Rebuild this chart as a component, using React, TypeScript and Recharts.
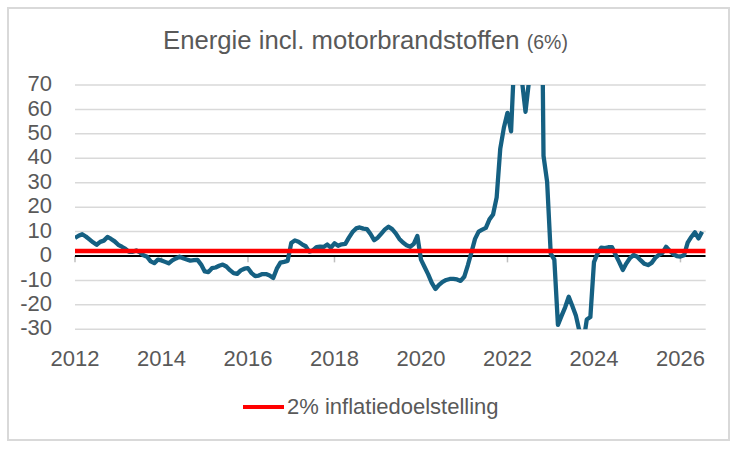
import React from 'react';
import { LineChart, Line, XAxis, YAxis, CartesianGrid, ReferenceLine } from 'recharts';

// Monthly year-on-year change (%), Jan 2012 – Jul 2026
const startYear = 2012;
const energie: number[] = [
  // 2012
  7.4, 8.3, 8.9, 8.0, 6.8, 5.6, 4.6, 5.8, 6.3, 7.8, 7.0, 6.0,
  // 2013
  4.6, 3.8, 2.9, 1.7, 1.7, 2.3, 1.5, 0.3, -0.3, -2.2, -2.9, -1.5,
  // 2014
  -1.8, -2.4, -3.0, -1.8, -1.0, -0.3, -0.9, -1.4, -1.9, -1.7, -1.6, -3.5,
  // 2015
  -6.3, -6.6, -5.0, -4.7, -4.0, -3.5, -4.3, -5.8, -7.0, -7.3, -5.9, -5.2,
  // 2016
  -5.0, -7.0, -8.2, -8.0, -7.4, -7.4, -8.0, -9.0, -5.2, -2.7, -2.4, -2.0,
  // 2017
  5.3, 6.4, 5.8, 4.8, 4.0, 1.8, 2.3, 3.6, 3.8, 3.7, 4.7, 3.4,
  // 2018
  5.2, 4.2, 4.8, 5.0, 7.5, 9.8, 11.3, 11.7, 11.2, 11.0, 9.0, 6.5,
  // 2019
  7.5, 9.2, 10.9, 12.0, 11.0, 9.3, 7.0, 5.5, 4.4, 3.8, 5.0, 8.2,
  // 2020
  -1.5, -4.5, -7.5, -11.0, -13.5, -11.8, -10.6, -9.8, -9.4, -9.4, -9.6, -10.2,
  // 2021
  -8.5, -3.8, 1.5, 7.0, 10.0, 10.8, 11.5, 15.0, 17.0, 24.0, 44.0, 52.5,
  // 2022
  58.6, 51.0, 85.0, 110.0, 72.0, 59.0, 72.0, 115.0, 160.0, 190.0, 41.0, 30.4,
  // 2023
  1.0, -1.5, -28.2, -24.5, -21.0, -16.7, -20.5, -24.5, -31.0, -36.0, -26.0, -25.0,
  // 2024
  -2.5, 1.1, 3.4, 3.2, 3.6, 3.6, 0.5, -2.5, -5.7, -3.0, -0.8, 0.4,
  // 2025
  -0.3, -1.8, -3.2, -3.7, -2.8, -0.8, 0.5, 1.3, 3.8, 2.2, 0.8, 0.0,
  // 2026
  -0.2, 0.3, 5.5, 7.8, 9.7, 7.2, 9.9,
];
const yearTicks = [2012, 2014, 2016, 2018, 2020, 2022, 2024, 2026];
const yTicks = [-30, -20, -10, 0, 10, 20, 30, 40, 50, 60, 70];
const inflatieDoel = 2;
const titleMain = 'Energie incl. motorbrandstoffen';
const titleWeight = '(6%)';
const legendLabel = '2% inflatiedoelstelling';

const axisEnd = startYear + energie.length / 12;
const rows = energie.map((v, i) => ({ t: startYear + i / 12, energie: v }));
const doelRows = [
  { t: startYear, doel: inflatieDoel },
  { t: axisEnd, doel: inflatieDoel },
];
const nulRows = [
  { t: startYear, nul: 0 },
  { t: axisEnd, nul: 0 },
];

const FONT = '"Liberation Sans", Arial, sans-serif';
const GREY = '#595959';

const YTick = (props: any) => {
  const { x, y, payload } = props;
  return (
    <text x={x} y={y} dy="0.28em" textAnchor="end" fontSize={22} fill={GREY} fontFamily={FONT}>
      {payload.value}
    </text>
  );
};

const XTick = (props: any) => {
  const { x, y, payload } = props;
  return (
    <text x={x} y={y} dy="0.71em" textAnchor="middle" fontSize={22} fill={GREY} fontFamily={FONT}>
      {payload.value}
    </text>
  );
};

export default function App() {
  return (
    <div style={{ position: 'absolute', left: 0, top: 0, width: 731, height: 449, background: '#fff' }}>
      <div
        style={{
          position: 'absolute',
          left: 7,
          top: 7,
          width: 723,
          height: 434,
          boxSizing: 'border-box',
          border: '2px solid #d9d9d9',
        }}
      />
      <div
        style={{
          position: 'absolute',
          left: 0,
          top: 27,
          width: 731,
          textAlign: 'center',
          fontFamily: FONT,
          fontSize: 25.7,
          lineHeight: '26px',
          color: GREY,
          whiteSpace: 'nowrap',
        }}
      >
        {titleMain} <span style={{ fontSize: 19.5 }}>{titleWeight}</span>
      </div>
      <div style={{ position: 'absolute', left: 0, top: 0 }}>
        <LineChart
          width={731}
          height={449}
          data={rows}
          margin={{ top: 85, right: 25.3, bottom: 79.7, left: 15 }}
        >
          <CartesianGrid horizontal vertical={false} stroke="#d9d9d9" strokeWidth={1.5} />
          <XAxis
            dataKey="t"
            type="number"
            domain={[startYear, axisEnd]}
            ticks={yearTicks}
            allowDataOverflow
            axisLine={false}
            tickLine={false}
            tickSize={0}
            tickMargin={21}
            height={40}
            tick={<XTick />}
            interval={0}
          />
          <YAxis
            type="number"
            domain={[-30, 70]}
            ticks={yTicks}
            allowDataOverflow
            axisLine={false}
            tickLine={false}
            tickSize={0}
            tickMargin={23}
            width={60}
            tick={<YTick />}
            interval={0}
          />
          {yearTicks.map((yr) => (
            <ReferenceLine
              key={yr}
              segment={[
                { x: yr, y: 0 },
                { x: yr, y: -2.6 },
              ]}
              stroke="#bfbfbf"
              strokeWidth={1.5}
            />
          ))}
          <Line
            data={nulRows}
            dataKey="nul"
            stroke="#000000"
            strokeWidth={2}
            dot={false}
            activeDot={false}
            legendType="none"
            isAnimationActive={false}
          />
          <Line
            dataKey="energie"
            stroke="#156082"
            strokeWidth={4.3}
            dot={false}
            activeDot={false}
            legendType="none"
            strokeLinejoin="round"
            isAnimationActive={false}
          />
          <Line
            data={doelRows}
            dataKey="doel"
            name={legendLabel}
            stroke="#ff0000"
            strokeWidth={4.5}
            dot={false}
            activeDot={false}
            isAnimationActive={false}
          />
        </LineChart>
      </div>
      <div
        style={{
          position: 'absolute',
          left: 243,
          top: 394,
          height: 26,
          display: 'flex',
          alignItems: 'center',
          fontFamily: FONT,
          fontSize: 22,
          color: GREY,
          whiteSpace: 'nowrap',
        }}
      >
        <svg width={41} height={6} style={{ display: 'block' }}>
          <line x1={0} y1={3} x2={41} y2={3} stroke="#ff0000" strokeWidth={4} />
        </svg>
        <span style={{ marginLeft: 3 }}>{legendLabel}</span>
      </div>
    </div>
  );
}
